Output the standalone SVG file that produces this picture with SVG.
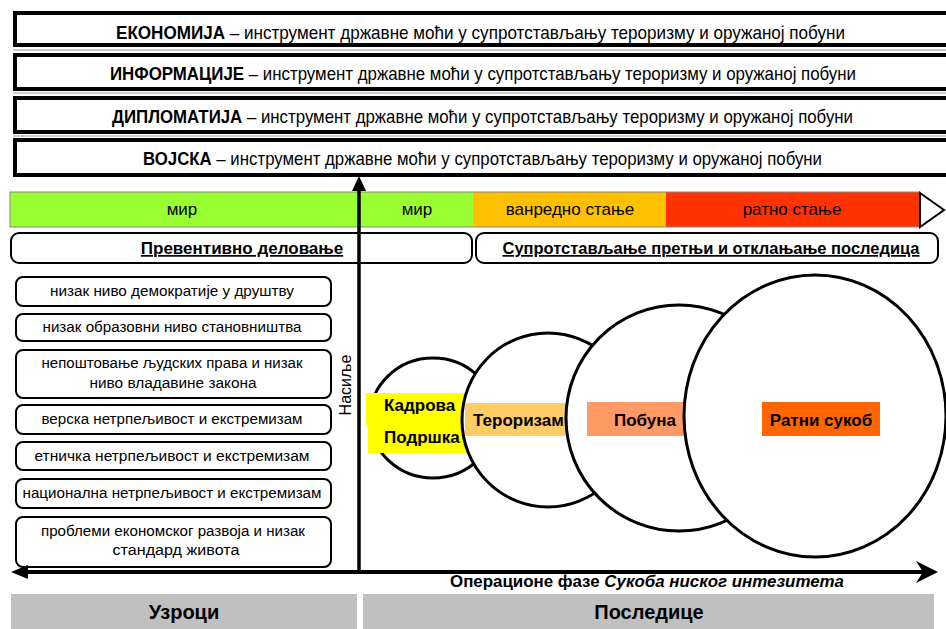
<svg xmlns="http://www.w3.org/2000/svg" width="946" height="629" viewBox="0 0 946 629">
<defs>
<style>
text{font-family:"Liberation Sans",Arial,sans-serif;fill:#000}
.top{font-size:18.5px}
.b{font-weight:bold}
.tb{fill:#fff;stroke:#000;stroke-width:4}
.sh{stroke:#999;stroke-width:1.2}
.bar{font-size:17px;text-anchor:middle}
.rb{fill:#fff;stroke:#000;stroke-width:2}
.rt{font-size:17px;font-weight:bold;text-anchor:middle;text-decoration:underline}
.cb{fill:#fff;stroke:#000;stroke-width:2}
.ct{font-size:15.5px;text-anchor:middle}
.el{fill:#fff;stroke:#000;stroke-width:3}
.lt{font-size:17px;font-weight:bold}
.gb{fill:#c0c0c0}
.gt{font-size:20px;font-weight:bold;text-anchor:middle}
</style>
</defs>
<rect width="946" height="629" fill="#fff"/>

<g id="ekonomija">
<rect class="tb" x="15" y="13" width="940" height="32"/>
<line class="sh" x1="13" y1="50" x2="946" y2="50"/>
<text class="top" x="116" y="39" textLength="729" lengthAdjust="spacingAndGlyphs"><tspan class="b">ЕКОНОМИЈА</tspan> – инструмент државне моћи у супротстављању тероризму и оружаној побуни</text>
</g>
<g id="informacije">
<rect class="tb" x="15" y="55" width="940" height="34"/>
<line class="sh" x1="13" y1="93" x2="946" y2="93"/>
<text class="top" x="110" y="80" textLength="746" lengthAdjust="spacingAndGlyphs"><tspan class="b">ИНФОРМАЦИЈЕ</tspan> – инструмент државне моћи у супротстављању тероризму и оружаној побуни</text>
</g>
<g id="diplomatija">
<rect class="tb" x="15" y="98" width="940" height="34"/>
<line class="sh" x1="13" y1="136" x2="946" y2="136"/>
<text class="top" x="112" y="123" textLength="741" lengthAdjust="spacingAndGlyphs"><tspan class="b">ДИПЛОМАТИЈА</tspan> – инструмент државне моћи у супротстављању тероризму и оружаној побуни</text>
</g>
<g id="vojska">
<rect class="tb" x="15" y="140" width="940" height="35"/>
<text class="top" x="143" y="165" textLength="679" lengthAdjust="spacingAndGlyphs"><tspan class="b">ВОЈСКА</tspan> – инструмент државне моћи у супротстављању тероризму и оружаној побуни</text>
</g>

<g id="phase-bar">
<rect x="10" y="192" width="463" height="35" fill="#99ff33"/>
<rect x="473" y="192" width="193" height="35" fill="#ffc000"/>
<rect x="666" y="192" width="254" height="35" fill="#ff3300"/>
<rect x="10" y="192" width="910" height="35" fill="none" stroke="#888" stroke-width="1"/>
<polygon points="920,193 944,210 920,227" fill="#fff" stroke="#000" stroke-width="2"/>
<text class="bar" x="182" y="215">мир</text>
<text class="bar" x="417" y="215">мир</text>
<text class="bar" x="570" y="215">ванредно стање</text>
<text class="bar" x="792" y="215">ратно стање</text>
</g>

<g id="preventivno">
<rect class="rb" x="11" y="233" width="461" height="30" rx="8"/>
<text class="rt" x="242" y="254">Превентивно деловање</text>
</g>
<g id="suprotstavljanje">
<rect class="rb" x="476" y="233" width="462" height="30" rx="8"/>
<text class="rt" x="711" y="254" textLength="417" lengthAdjust="spacingAndGlyphs">Супротстављање претњи и отклањање последица</text>
</g>

<g id="uzrok-1">
<rect class="cb" x="16" y="277" width="315" height="29" rx="7"/>
<text class="ct" x="172" y="296" textLength="244" lengthAdjust="spacingAndGlyphs">низак ниво демократије у друштву</text>
</g>
<g id="uzrok-2">
<rect class="cb" x="16" y="314" width="315" height="27" rx="7"/>
<text class="ct" x="172" y="332" textLength="259" lengthAdjust="spacingAndGlyphs">низак образовни ниво становништва</text>
</g>
<g id="uzrok-3">
<rect class="cb" x="16" y="350" width="315" height="48" rx="7"/>
<text class="ct" x="172" y="368" textLength="261" lengthAdjust="spacingAndGlyphs">непоштовање људских права и низак</text>
<text class="ct" x="173" y="388" textLength="167" lengthAdjust="spacingAndGlyphs">ниво владавине закона</text>
</g>
<g id="uzrok-4">
<rect class="cb" x="16" y="405" width="315" height="29" rx="7"/>
<text class="ct" x="172" y="424" textLength="261" lengthAdjust="spacingAndGlyphs">верска нетрпељивост и екстремизам</text>
</g>
<g id="uzrok-5">
<rect class="cb" x="16" y="442" width="315" height="28" rx="7"/>
<text class="ct" x="172" y="461" textLength="275" lengthAdjust="spacingAndGlyphs">етничка нетрпељивост и екстремизам</text>
</g>
<g id="uzrok-6">
<rect class="cb" x="16" y="479" width="315" height="29" rx="7"/>
<text class="ct" x="172" y="498" textLength="299" lengthAdjust="spacingAndGlyphs">национална нетрпељивост и екстремизам</text>
</g>
<g id="uzrok-7">
<rect class="cb" x="16" y="517" width="315" height="50" rx="7"/>
<text class="ct" x="173" y="536" textLength="264" lengthAdjust="spacingAndGlyphs">проблеми економског развоја и низак</text>
<text class="ct" x="176" y="555" textLength="127" lengthAdjust="spacingAndGlyphs">стандард живота</text>
</g>

<g id="nasilje">
<text x="351" y="385" font-size="16" text-anchor="middle" transform="rotate(-90 351 385)">Насиље</text>
</g>

<g id="kadrova-podrska">
<ellipse class="el" cx="433" cy="418" rx="63" ry="60"/>
<rect x="366" y="393" width="106" height="32" fill="#ffff00"/>
<rect x="368" y="425" width="104" height="28" fill="#ffff00"/>
<text class="lt" x="384" y="411">Кадрова</text>
<text class="lt" x="384" y="443">Подршка</text>
</g>
<g id="terorizam">
<ellipse class="el" cx="548" cy="420" rx="86" ry="87"/>
<rect x="465" y="403" width="110" height="33" fill="#ffcc66"/>
<text class="lt" x="473" y="426">Тероризам</text>
</g>
<g id="pobuna">
<ellipse class="el" cx="679" cy="418" rx="113" ry="113"/>
<rect x="587" y="402" width="110" height="34" fill="#ff9966"/>
<text class="lt" x="645" y="426" text-anchor="middle">Побуна</text>
</g>
<g id="ratni-sukob">
<ellipse class="el" cx="815" cy="416" rx="131" ry="141"/>
<rect x="762" y="402" width="118" height="34" fill="#ff6600"/>
<text class="lt" x="821" y="426" text-anchor="middle">Ратни сукоб</text>
</g>

<g id="connectors">
<line x1="359" y1="188" x2="359" y2="572" stroke="#000" stroke-width="3.5"/>
<polygon points="359,176 366,191 352,191" fill="#000"/>
<line x1="22" y1="572" x2="926" y2="572" stroke="#000" stroke-width="4"/>
<polygon points="11,572 28,565 28,579" fill="#000"/>
<polygon points="938,572 916,561 923,572 916,583" fill="#000"/>
</g>

<g id="faze-label">
<text x="450" y="587" font-size="16.5" font-weight="bold" textLength="394" lengthAdjust="spacingAndGlyphs">Операционе фазе <tspan font-style="italic">Сукоба ниског интезитета</tspan></text>
</g>

<g id="uzroci">
<rect class="gb" x="11" y="594" width="346" height="35"/>
<text class="gt" x="184" y="619">Узроци</text>
</g>
<g id="posledice">
<rect class="gb" x="363" y="594" width="571" height="35"/>
<text class="gt" x="649" y="619">Последице</text>
</g>
</svg>
